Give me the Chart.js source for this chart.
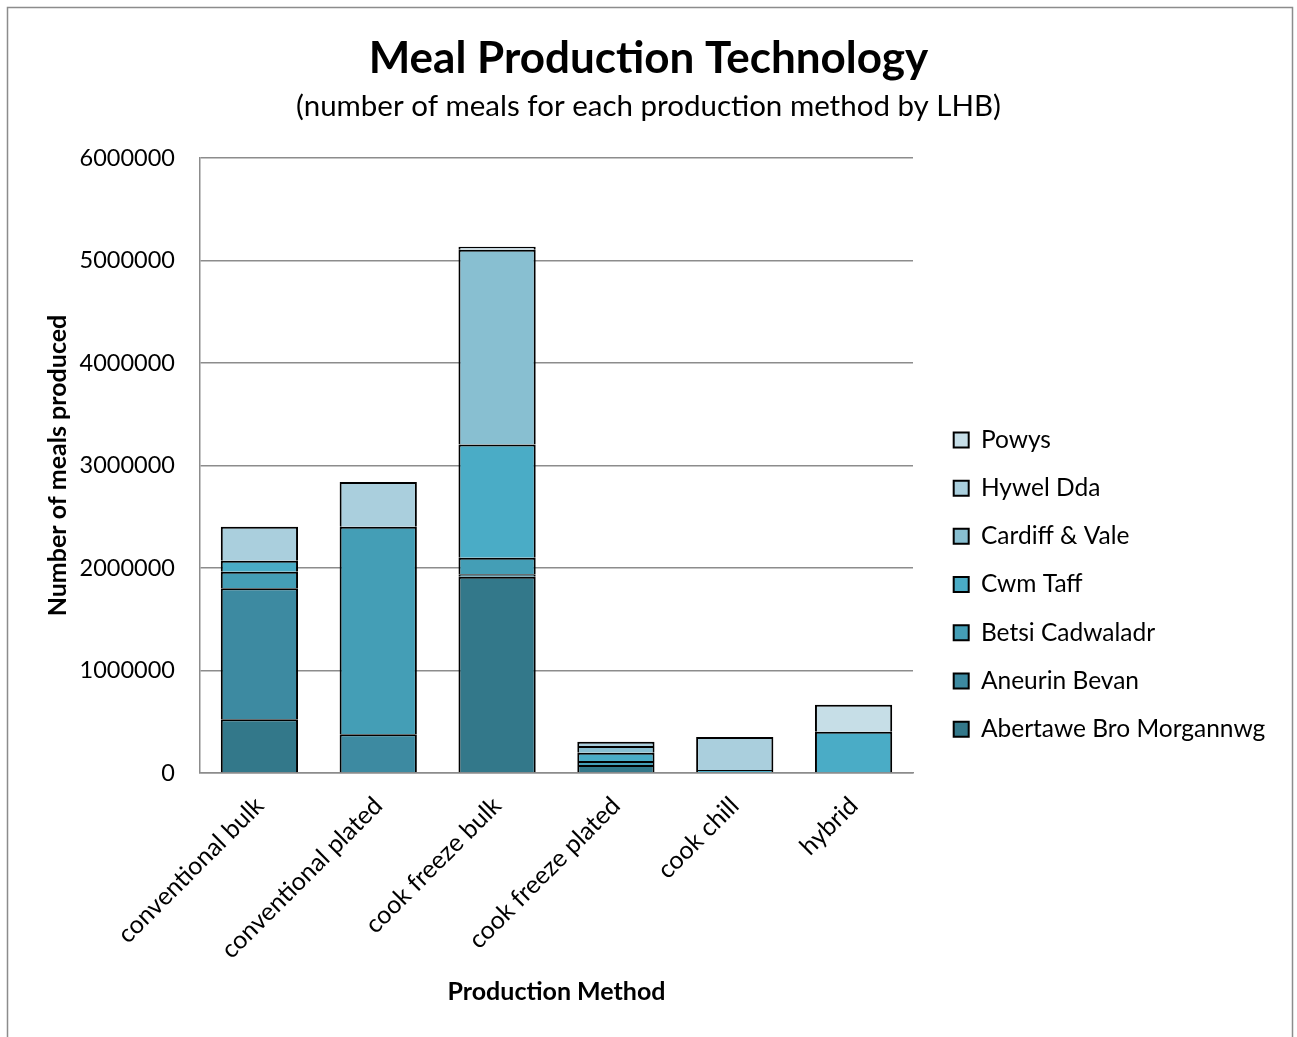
<!DOCTYPE html>
<html lang="en">
<head>
<meta charset="UTF-8">
<title>Meal Production Technology</title>
<script src="https://cdn.jsdelivr.net/npm/chart.js"></script>
<style>
  body { margin: 0; background: #fff; }
  canvas { display: block; }
</style>
</head>
<body>
<canvas id="myChart" width="1297" height="1037"></canvas>
<script>
// production methods on the x axis
const methods = ['conventional bulk', 'conventional plated', 'cook freeze bulk', 'cook freeze plated', 'cook chill', 'hybrid'];

// meals produced per method, one array per LHB
const abertawe = [524000, null, 1915000, 78000, null, null];
const aneurin = [1278000, 377000, 23000, null, null, null];
const betsi = [162000, 2025000, 162000, 39000, null, null];
const cwmTaff = [107000, null, 1106000, 81000, 30000, 403000];
const cardiff = [null, null, 1898000, 65000, null, null];
const hywelDda = [332000, 436000, null, 42000, 322000, null];
const powys = [null, null, 30000, null, null, 263000];

// y axis tick values
const yTicks = [0, 1000000, 2000000, 3000000, 4000000, 5000000, 6000000];

const FONT = 'Lato, "Open Sans", sans-serif';
Chart.defaults.color = '#000';
Chart.defaults.font.family = FONT;

function serie(label, data, color) {
    return {
        label: label,
        data: data,
        backgroundColor: color,
        borderColor: '#000',
        borderWidth: 2
    };
}

// grey frame round the whole chart
const frame = {
    id: 'frame',
    beforeDraw(chart) {
        const ctx = chart.ctx;
        ctx.save();
        ctx.strokeStyle = '#8c8c8c';
        ctx.lineWidth = 1.5;
        ctx.strokeRect(7.5, 7.5, 1285, 1040);
        ctx.restore();
    }
};

// keep the plot area where the original has it and move the legend
const placeLegend = {
    id: 'placeLegend',
    beforeLayout(chart) {
        const lg = chart.legend;
        if (lg && !lg._fixed) {
            const fit = lg.fit.bind(lg);
            lg.fit = function () { fit(); this.width = 1297 - 913; };
            lg._fixed = true;
        }
    },
    afterLayout(chart) {
        const lg = chart.legend;
        lg.left = 930;
        lg.right = 1297;
        lg.top = 404;
        lg.bottom = 1037;
    }
};

const ctx = document.getElementById('myChart').getContext('2d');
const myChart = new Chart(ctx, {
    type: 'bar',
    data: {
        labels: methods,
        datasets: [
            serie('Abertawe Bro Morgannwg', abertawe, '#33788a'),
            serie('Aneurin Bevan', aneurin, '#3d8aa1'),
            serie('Betsi Cadwaladr', betsi, '#449eb6'),
            serie('Cwm Taff', cwmTaff, '#4aacc6'),
            serie('Cardiff & Vale', cardiff, '#88bfd1'),
            serie('Hywel Dda', hywelDda, '#aacfdd'),
            serie('Powys', powys, '#c6dee7')
        ]
    },
    options: {
        responsive: false,
        animation: false,
        maintainAspectRatio: false,
        categoryPercentage: 1,
        barPercentage: 0.65,
        layout: { padding: 0 },
        plugins: {
            title: {
                display: true,
                text: 'Meal Production Technology',
                font: { size: 44, weight: 'bold' },
                padding: { top: 32, bottom: 0 }
            },
            subtitle: {
                display: true,
                text: '(number of meals for each production method by LHB)',
                font: { size: 29.5 },
                padding: { top: 3.5, bottom: 34.3 }
            },
            legend: {
                position: 'right',
                align: 'start',
                reverse: true,
                labels: {
                    boxWidth: 15,
                    boxHeight: 15,
                    padding: 23.7,
                    font: { size: 24.5 }
                }
            },
            tooltip: { enabled: false }
        },
        scales: {
            x: {
                stacked: true,
                afterFit: s => { s.height = 1037 - 773; },
                grid: { display: false, drawTicks: false },
                border: { display: true, color: '#8c8c8c', width: 1.5 },
                ticks: {
                    minRotation: 45,
                    maxRotation: 45,
                    padding: 18,
                    font: { size: 25 }
                },
                title: {
                    display: true,
                    text: 'Production Method',
                    font: { size: 25, weight: 'bold' },
                    padding: { top: 0, bottom: 30 }
                }
            },
            y: {
                stacked: true,
                min: 0,
                max: 6000000,
                afterFit: s => { s.width = 200; },
                afterBuildTicks: s => { s.ticks = yTicks.map(v => ({ value: v })); },
                grid: { color: '#8c8c8c', lineWidth: 1.5, drawTicks: false },
                border: { display: true, color: '#8c8c8c', width: 1.5 },
                ticks: {
                    padding: 25,
                    font: { size: 23.5 },
                    callback: v => String(v)
                },
                title: {
                    display: true,
                    text: 'Number of meals produced',
                    font: { size: 25, weight: 'bold' },
                    padding: { top: 43, bottom: 0 }
                }
            }
        }
    },
    plugins: [frame, placeLegend]
});
</script>
</body>
</html>
